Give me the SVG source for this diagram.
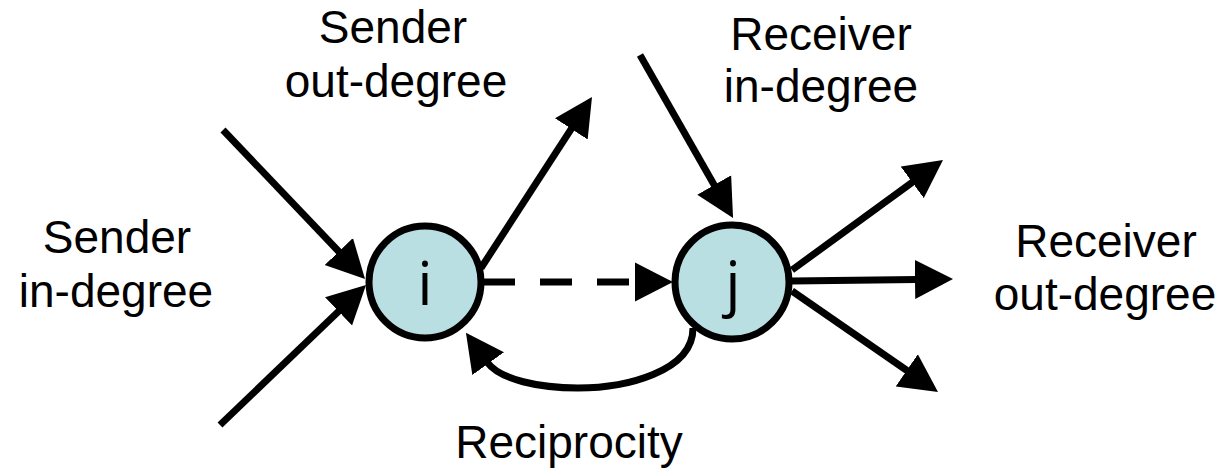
<svg xmlns="http://www.w3.org/2000/svg" width="1229" height="475" viewBox="0 0 1229 475">
<style>
.lbl{font-family:"Liberation Sans",Arial,sans-serif;font-size:46px;fill:#000;text-anchor:middle}
.node circle{fill:#B9DFE3;stroke:#000;stroke-width:7}
.node text{font-family:"Open Sans","Noto Sans",sans-serif;font-size:61px;fill:#000;text-anchor:middle}
.edge{fill:none;stroke:#000;stroke-width:7;marker-end:url(#ah)}
.dash{stroke-dasharray:32 25}
</style>
<defs>
<marker id="ah" markerUnits="userSpaceOnUse" viewBox="0 -20 38 40" markerWidth="38" markerHeight="40" refX="2" refY="0" orient="auto">
<path d="M0,-19.5 L38,0 L0,19.5 Z" fill="#000"/>
</marker>
</defs>
<rect width="1229" height="475" fill="#fff"/>
<g id="connectors">
<line class="edge" x1="223" y1="130" x2="340.2" y2="253"/>
<line class="edge" x1="220" y1="425" x2="340" y2="310"/>
<line class="edge" x1="481" y1="268" x2="572.4" y2="127.2"/>
<line class="edge dash" x1="483" y1="282" x2="637" y2="282"/>
<line class="edge" x1="640" y1="55" x2="715.2" y2="186.7"/>
<line class="edge" x1="792" y1="270" x2="913.9" y2="181.2"/>
<line class="edge" x1="792" y1="281" x2="917" y2="279.4"/>
<line class="edge" x1="792" y1="291" x2="908.4" y2="371.5"/>
<path class="edge" d="M693,328 C693,372 625,388 578,388 C540,388 500,380 487,362"/>
</g>
<g id="node-i" class="node">
<circle cx="425" cy="282" r="56"/>
<text x="425" y="305">i</text>
</g>
<g id="node-j" class="node">
<circle cx="732" cy="282" r="57"/>
<text x="733" y="305">j</text>
</g>
<g id="labels">
<text class="lbl" x="393" y="43">Sender</text>
<text class="lbl" x="396" y="97">out-degree</text>
<text class="lbl" x="821" y="50">Receiver</text>
<text class="lbl" x="821" y="102">in-degree</text>
<text class="lbl" x="117" y="253">Sender</text>
<text class="lbl" x="116" y="307">in-degree</text>
<text class="lbl" x="1106" y="257">Receiver</text>
<text class="lbl" x="1105" y="310">out-degree</text>
<text class="lbl" x="569" y="458">Reciprocity</text>
</g>
</svg>
